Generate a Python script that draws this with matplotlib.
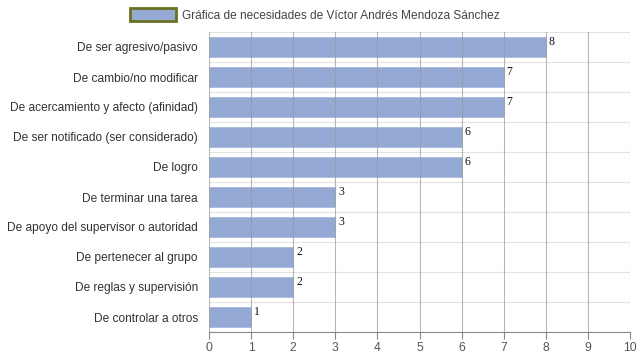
import matplotlib
matplotlib.use("Agg")
import matplotlib.pyplot as plt
from matplotlib.patches import Patch

categories = [
    "De ser agresivo/pasivo",
    "De cambio/no modificar",
    "De acercamiento y afecto (afinidad)",
    "De ser notificado (ser considerado)",
    "De logro",
    "De terminar una tarea",
    "De apoyo del supervisor o autoridad",
    "De pertenecer al grupo",
    "De reglas y supervisión",
    "De controlar a otros",
]
values = [8, 7, 7, 6, 6, 3, 3, 2, 2, 1]
xticks = list(range(0, 11))
legend_label = "Gráfica de necesidades de Víctor Andrés Mendoza Sánchez"

plt.rcParams['font.family'] = ['Liberation Sans', 'DejaVu Sans']

fig = plt.figure(figsize=(6.39, 3.6), dpi=100)
ax = fig.add_axes([209/639, 1-332/360, (630-209)/639, 300/360])

n = len(categories)
ypos = list(range(n))
ax.barh(ypos, values, height=0.66, color='#94a9d4', edgecolor='#a9b9dd', linewidth=0.6, zorder=2)

ax.set_ylim(n - 0.5, -0.5)
ax.set_xlim(0, 10)
ax.set_xticks(xticks)
ax.set_xticklabels([str(t) for t in xticks], color='#555555', fontsize=8.7)
ax.set_yticks(ypos)
ax.set_yticklabels(categories, color='#333333', fontsize=8.6)
ax.tick_params(axis='y', length=0, pad=8)
ax.tick_params(axis='x', length=5, color='#888888', pad=2)

for x in xticks:
    ax.axvline(x, color='#999999', linewidth=0.8, alpha=0.7, zorder=3)
for k in range(n + 1):
    ax.axhline(k - 0.5, color='#e2e2e2', linewidth=0.8, zorder=1)

for sp in ['top', 'right', 'left']:
    ax.spines[sp].set_visible(False)
ax.spines['bottom'].set_color('#888888')
ax.spines['bottom'].set_zorder(4)

for y, v in zip(ypos, values):
    ax.text(v + 0.07, y - 0.18, str(v), family=['Liberation Serif', 'DejaVu Serif'],
            fontsize=8.5, color='#111111', va='center', ha='left', zorder=5)

handle = Patch(facecolor='#94a9d4', edgecolor='#6b7020', linewidth=2)
fig.legend([handle], [legend_label], loc='center', bbox_to_anchor=(0.493, 0.958),
           frameon=False, fontsize=8.6, handlelength=3.8, handleheight=1.3,
           handletextpad=0.5, labelcolor='#444444')

fig.savefig('out.png', dpi=100)
